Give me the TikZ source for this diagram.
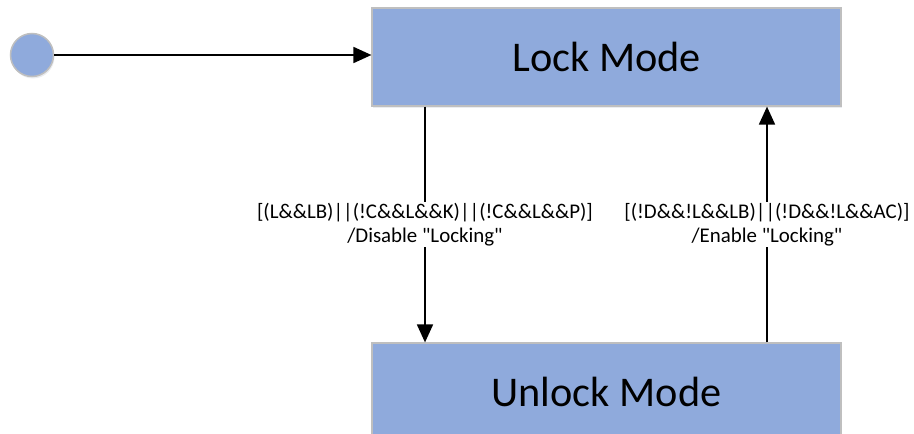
\documentclass[tikz,border=0pt]{standalone}
\usepackage{fontspec}
\setmainfont{Carlito}[Ligatures=TeXOff]
\usetikzlibrary{arrows.meta,shadows}
\definecolor{modeblue}{HTML}{8FAADC}
\definecolor{modeedge}{HTML}{BFBFBF}

\begin{document}
\begin{tikzpicture}[x=1pt,y=1pt,
  mode/.style={
    draw=modeedge, line width=1.2pt, fill=modeblue,
    minimum width=469pt, minimum height=98pt, inner sep=0pt,
    font=\fontsize{42.3}{50}\selectfont,
    drop shadow={shadow xshift=1pt, shadow yshift=-2pt, opacity=.12, fill=modeblue!60!black},
  },
  trans/.style={
    line width=1.8pt, -{Triangle[length=18pt,width=16pt]},
  },
  guard/.style={
    fill=white, align=center, inner sep=1pt,
    font=\fontsize{20.9}{24.5}\selectfont,
  }]
  \useasboundingbox (0,0) rectangle (914,-434);
  \node[circle, draw=modeedge, line width=1.5pt, fill=modeblue, minimum size=43pt,
    drop shadow={shadow xshift=1pt, shadow yshift=-2pt, opacity=.12, fill=modeblue!60!black}] (init) at (32,-55) {};
  \node[mode] (lock) at (606.5,-57) {Lock Mode};
  \node[mode] (unlock) at (606.5,-392) {Unlock Mode};
  \coordinate (down) at (425,0);
  \coordinate (up) at (767,0);
  \draw[trans] (init) -- (lock.west |- init);
  \draw[trans] (lock.south -| down) -- node[guard] {[(L\&\&LB)||(!C\&\&L\&\&K)||(!C\&\&L\&\&P)]\\/Disable "Locking"} (unlock.north -| down);
  \draw[trans] (unlock.north -| up) -- node[guard] {[(!D\&\&!L\&\&LB)||(!D\&\&!L\&\&AC)]\\/Enable "Locking"} (lock.south -| up);
\end{tikzpicture}
\end{document}
